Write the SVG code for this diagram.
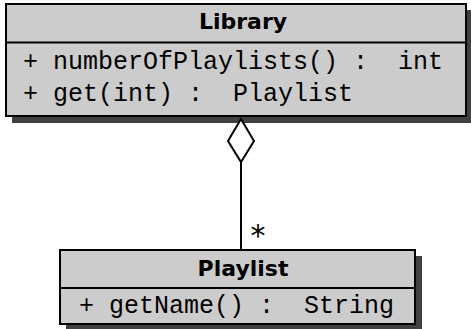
<svg xmlns="http://www.w3.org/2000/svg" width="471" height="329" viewBox="0 0 471 329">
<style>
.shadow{fill:#404040;stroke:none}
.box{fill:#cccccc;stroke:#000;stroke-width:2}
.sep{stroke:#000;stroke-width:2}
.title{font-family:"DejaVu Sans",sans-serif;font-weight:bold;font-size:22px;fill:#000;text-anchor:middle}
.mono{font-family:"Liberation Mono","DejaVu Sans Mono",monospace;font-size:25px;fill:#000;white-space:pre}
.conn{stroke:#000;stroke-width:2;fill:none}
</style>
<rect width="471" height="329" fill="#fff"/>
<g id="Library">
<rect class="shadow" x="12" y="10" width="459" height="113"/>
<rect class="box" x="6" y="4" width="460" height="112"/>
<line class="sep" x1="6" y1="42.5" x2="466" y2="42.5"/>
<text class="title" x="243" y="28.5">Library</text>
<text class="mono" x="23" y="69" xml:space="preserve">+ numberOfPlaylists() :  int</text>
<text class="mono" x="23" y="101" xml:space="preserve">+ get(int) :  Playlist</text>
</g>
<g id="Playlist">
<rect class="shadow" x="66" y="256" width="356" height="73"/>
<rect class="box" x="60" y="250" width="355" height="74"/>
<line class="sep" x1="60" y1="288" x2="415" y2="288"/>
<text class="title" x="243" y="276">Playlist</text>
<text class="mono" x="79" y="313" xml:space="preserve">+ getName() :  String</text>
</g>
<g id="connectors">
<polygon class="conn" points="241,119 254,141 241,162 228,141" style="fill:#fff"/>
<line class="conn" x1="241" y1="162" x2="241" y2="250"/>
<text x="258" y="246" font-family="DejaVu Sans,sans-serif" font-size="30" text-anchor="middle">*</text>
</g>
</svg>
